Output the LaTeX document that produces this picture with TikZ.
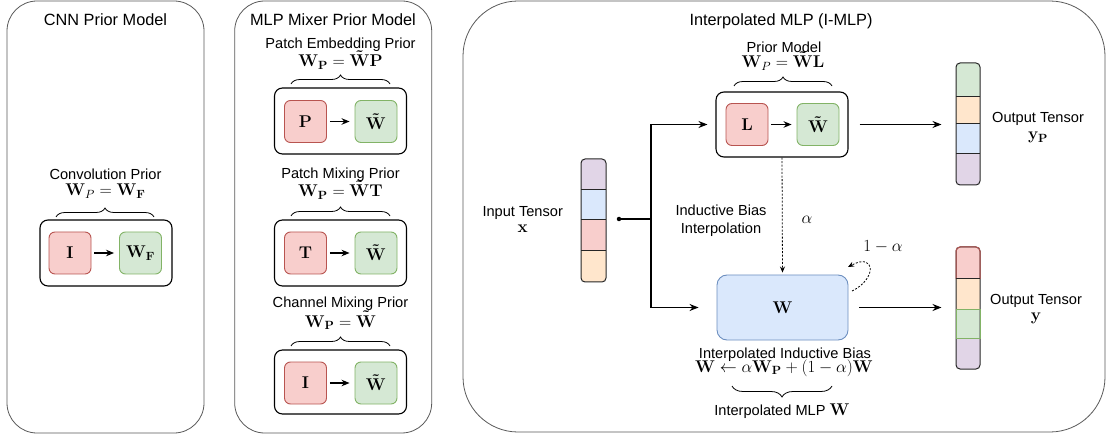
\RequirePackage{fix-cm}
\documentclass[tikz,border=0pt]{standalone}
\usepackage{bm}
\usepackage[no-math]{fontspec}
\setmainfont{Liberation Sans}
\usetikzlibrary{decorations.pathreplacing, arrows.meta}
\definecolor{redfill}{HTML}{F8CECC}\definecolor{redline}{HTML}{B85450}
\definecolor{greenfill}{HTML}{D5E8D4}\definecolor{greenline}{HTML}{82B366}
\definecolor{bluefill}{HTML}{DAE8FC}\definecolor{blueline}{HTML}{6C8EBF}
\definecolor{orangefill}{HTML}{FFE6CC}\definecolor{orangeline}{HTML}{D79B00}
\definecolor{purplefill}{HTML}{E1D5E7}\definecolor{purpleline}{HTML}{9673A6}
\tikzset{
  panel/.style={draw=black!65, line width=0.8pt, inner sep=0pt},
  head/.style={inner sep=0pt, anchor=base, font=\fontsize{16.3}{19}\selectfont},
  lbl/.style={inner sep=0pt, anchor=base, font=\fontsize{14.6}{17}\selectfont},
  mth/.style={inner sep=0pt, anchor=base, font=\fontsize{17}{20}\selectfont},
  frame/.style={draw=black, line width=1.1pt, rounded corners=8pt, minimum width=132pt, minimum height=66pt, inner sep=0pt},
  redbox/.style={draw=redline, fill=redfill, line width=0.9pt, rounded corners=6pt, minimum size=42pt, inner sep=0pt, font=\fontsize{17}{20}\selectfont},
  greenbox/.style={draw=greenline, fill=greenfill, line width=0.9pt, rounded corners=6pt, minimum size=42pt, inner sep=0pt, font=\fontsize{17}{20}\selectfont},
  arr/.style={-{Stealth[length=9pt,width=7pt]}, line width=1.3pt},
  smallarr/.style={-{Stealth[length=8pt,width=6.5pt]}, line width=1.3pt, shorten <=3pt, shorten >=5pt},
  dotarr/.style={-{Stealth[length=6pt,width=5pt]}, line width=0.8pt, dash pattern=on 2pt off 1.6pt},
  brace/.style={decorate, decoration={brace, amplitude=9pt}, line width=0.8pt},
  tensor/.style={draw=black!85, line width=1pt, rounded corners=4pt, inner sep=0pt},
  segline/.style={draw=black!85, line width=1pt},
}
\begin{document}
\begin{tikzpicture}[x=1pt, y=-1pt]
\useasboundingbox (0,0) rectangle (1107,435);

% ---------------- Panel 1 ----------------
\node[panel, rounded corners=30pt, minimum width=197pt, minimum height=432pt] (p1) at (105.5,217) {};
\node[head] (t1) at (105.5,26) {CNN Prior Model};
\node[lbl] (c1) at (105.5,180) {Convolution Prior};
\node[mth] (m1) at (105.5,195.5) {$\mathbf{W}_P=\mathbf{W}_{\mathbf{F}}$};
\draw[brace] (56,217) -- (154,217);
\node[frame] (f1) at (106,253) {};
\node[redbox] (r1) at (70,253) {$\mathbf{I}$};
\node[greenbox] (g1) at (140.5,253) {$\mathbf{W}_{\mathbf{F}}$};
\draw[smallarr] (r1) -- (g1);

% ---------------- Panel 2 ----------------
\node[panel, rounded corners=30pt, minimum width=197pt, minimum height=432pt] (p2) at (333.2,217) {};
\node[head] (t2) at (333,26) {MLP Mixer Prior Model};

\node[lbl] (c2a) at (340.5,48.5) {Patch Embedding Prior};
\node[mth] (m2a) at (340.5,66.5) {$\mathbf{W}_{\mathbf{P}}=\bm{\tilde{\mathbf{W}}}\mathbf{P}$};
\draw[brace] (291,84) -- (390,84);
\node[frame] (f2a) at (340.5,121) {};
\node[redbox] (r2a) at (305.5,121.5) {$\mathbf{P}$};
\node[greenbox] (g2a) at (376,121.5) {$\bm{\tilde{\mathbf{W}}}$};
\draw[smallarr] (r2a) -- (g2a);

\node[lbl] (c2b) at (340.5,179) {Patch Mixing Prior};
\node[mth] (m2b) at (340.5,197) {$\mathbf{W}_{\mathbf{P}}=\bm{\tilde{\mathbf{W}}}\mathbf{T}$};
\draw[brace] (291,216) -- (390,216);
\node[frame] (f2b) at (340.5,253) {};
\node[redbox] (r2b) at (305.5,253) {$\mathbf{T}$};
\node[greenbox] (g2b) at (376,253) {$\bm{\tilde{\mathbf{W}}}$};
\draw[smallarr] (r2b) -- (g2b);

\node[lbl] (c2c) at (340.5,307) {Channel Mixing Prior};
\node[mth] (m2c) at (340.5,327) {$\mathbf{W}_{\mathbf{P}}=\bm{\tilde{\mathbf{W}}}$};
\draw[brace] (291,346) -- (390,346);
\node[frame, minimum height=64pt] (f2c) at (340.5,382) {};
\node[redbox] (r2c) at (305.5,383) {$\mathbf{I}$};
\node[greenbox] (g2c) at (376,383) {$\bm{\tilde{\mathbf{W}}}$};
\draw[smallarr] (r2c) -- (g2c);

% ---------------- Panel 3 ----------------
\node[panel, rounded corners=55pt, minimum width=642pt, minimum height=431pt] (p3) at (784,216.5) {};
\node[head] (t3) at (781,26) {Interpolated MLP (I-MLP)};

% prior model
\node[lbl] (c3) at (784,53) {Prior Model};
\node[mth] (m3) at (783,67.7) {$\mathbf{W}_P=\bm{\tilde{\mathbf{W}}}\mathbf{L}$};
\draw[brace] (734,86) -- (832,86);
\node[frame, minimum height=65pt] (pf) at (782,124.5) {};
\node[redbox] (r3) at (747,124.5) {$\mathbf{L}$};
\node[greenbox] (g3) at (818,124.5) {$\bm{\tilde{\mathbf{W}}}$};
\draw[smallarr] (r3) -- (g3);

% input tensor
\begin{scope}
\clip[rounded corners=4pt] (581,159) rectangle (606,282);
\fill[purplefill] (581,159) rectangle (606,190);
\fill[bluefill] (581,190) rectangle (606,220);
\fill[redfill] (581,220) rectangle (606,251);
\fill[orangefill] (581,251) rectangle (606,282);
\end{scope}
\draw[segline] (581,190) -- (606,190);
\draw[segline] (581,220) -- (606,220);
\draw[segline] (581,251) -- (606,251);
\node[tensor, minimum width=25pt, minimum height=123pt] (xin) at (593.5,220.5) {};
\node[lbl] (xl) at (522.7,217) {Input Tensor};
\node[mth] (xm) at (522.7,233) {$\mathbf{x}$};

% output tensor y_P
\begin{scope}
\clip[rounded corners=4pt] (956,63) rectangle (980,185);
\fill[greenfill] (956,63) rectangle (980,97);
\fill[orangefill] (956,97) rectangle (980,124);
\fill[bluefill] (956,124) rectangle (980,154);
\fill[purplefill] (956,154) rectangle (980,185);
\end{scope}
\draw[segline] (956,97) -- (980,97);
\draw[segline] (956,124) -- (980,124);
\draw[segline] (956,154) -- (980,154);
\node[tensor, minimum width=24pt, minimum height=122pt] (yp) at (968,124) {};
\node[lbl] (ypl) at (1038,123) {Output Tensor};
\node[mth] (ypm) at (1038,140) {$\mathbf{y}_{\mathbf{P}}$};

% output tensor y
\begin{scope}
\clip[rounded corners=4pt] (956,247) rectangle (980,369);
\fill[redfill] (956,247) rectangle (980,279);
\fill[orangefill] (956,279) rectangle (980,309);
\fill[greenfill] (956,309) rectangle (980,338);
\fill[purplefill] (956,338) rectangle (980,369);
\end{scope}
\node[tensor, minimum width=24pt, minimum height=122pt] (yo) at (968,308) {};
\draw[draw=redline, line width=1pt, rounded corners=4pt] (956,279) -- (956,247) -- (980,247) -- (980,279);
\draw[draw=greenline, line width=1pt] (956,309) rectangle (980,338);
\draw[segline] (956,279) -- (980,279);
\node[lbl] (yl) at (1036,304.5) {Output Tensor};
\node[mth] (ym) at (1036,320) {$\mathbf{y}$};

% W box
\node[draw=blueline, fill=bluefill, line width=0.9pt, rounded corners=10pt, minimum width=131pt, minimum height=65pt, inner sep=0pt, font=\fontsize{17}{20}\selectfont] (wbox) at (782.5,307.5) {$\mathbf{W}$};

% split connectors
\node[circle, fill=black, inner sep=0pt, minimum size=4.5pt] (dot) at (619,219) {};
\coordinate (split) at (651,219);
\draw[line width=1.3pt] (dot) -- (split);
\draw[arr, shorten >=8pt] (split) |- (pf.west);
\draw[arr, shorten >=18pt] (split) |- (wbox.west);

% outputs
\draw[arr, shorten <=11pt, shorten >=14pt] (pf.east) -- (pf.east -| yp.west);
\draw[arr, shorten <=11pt, shorten >=14pt] (wbox.east) -- (wbox.east -| yo.west);

% interpolation
\draw[dotarr, shorten >=2pt] (pf.south) -- (wbox.north);
\node[lbl] (ib1) at (721,215.5) {Inductive Bias};
\node[lbl] (ib2) at (721,234) {Interpolation};
\node[mth] (al) at (807,224) {$\alpha$};
\node[mth] (oma) at (883,252) {$1-\alpha$};
\coordinate (ls) at (852,291);
\coordinate (le) at (848,267);
\draw[dotarr] (ls) .. controls (877,279) and (876,252) .. (le);

% bottom labels
\node[lbl] (iib) at (785,358.5) {Interpolated Inductive Bias};
\node[mth] (eq) at (784,372) {$\mathbf{W}\leftarrow\alpha\mathbf{W}_{\mathbf{P}}+(1-\alpha)\mathbf{W}$};
\draw[brace, decoration={brace, amplitude=11pt}] (832,386) -- (732,386);
\node[lbl] (imlp) at (782,415.5) {Interpolated MLP {\fontsize{17}{20}\selectfont$\mathbf{W}$}};
\end{tikzpicture}
\end{document}
